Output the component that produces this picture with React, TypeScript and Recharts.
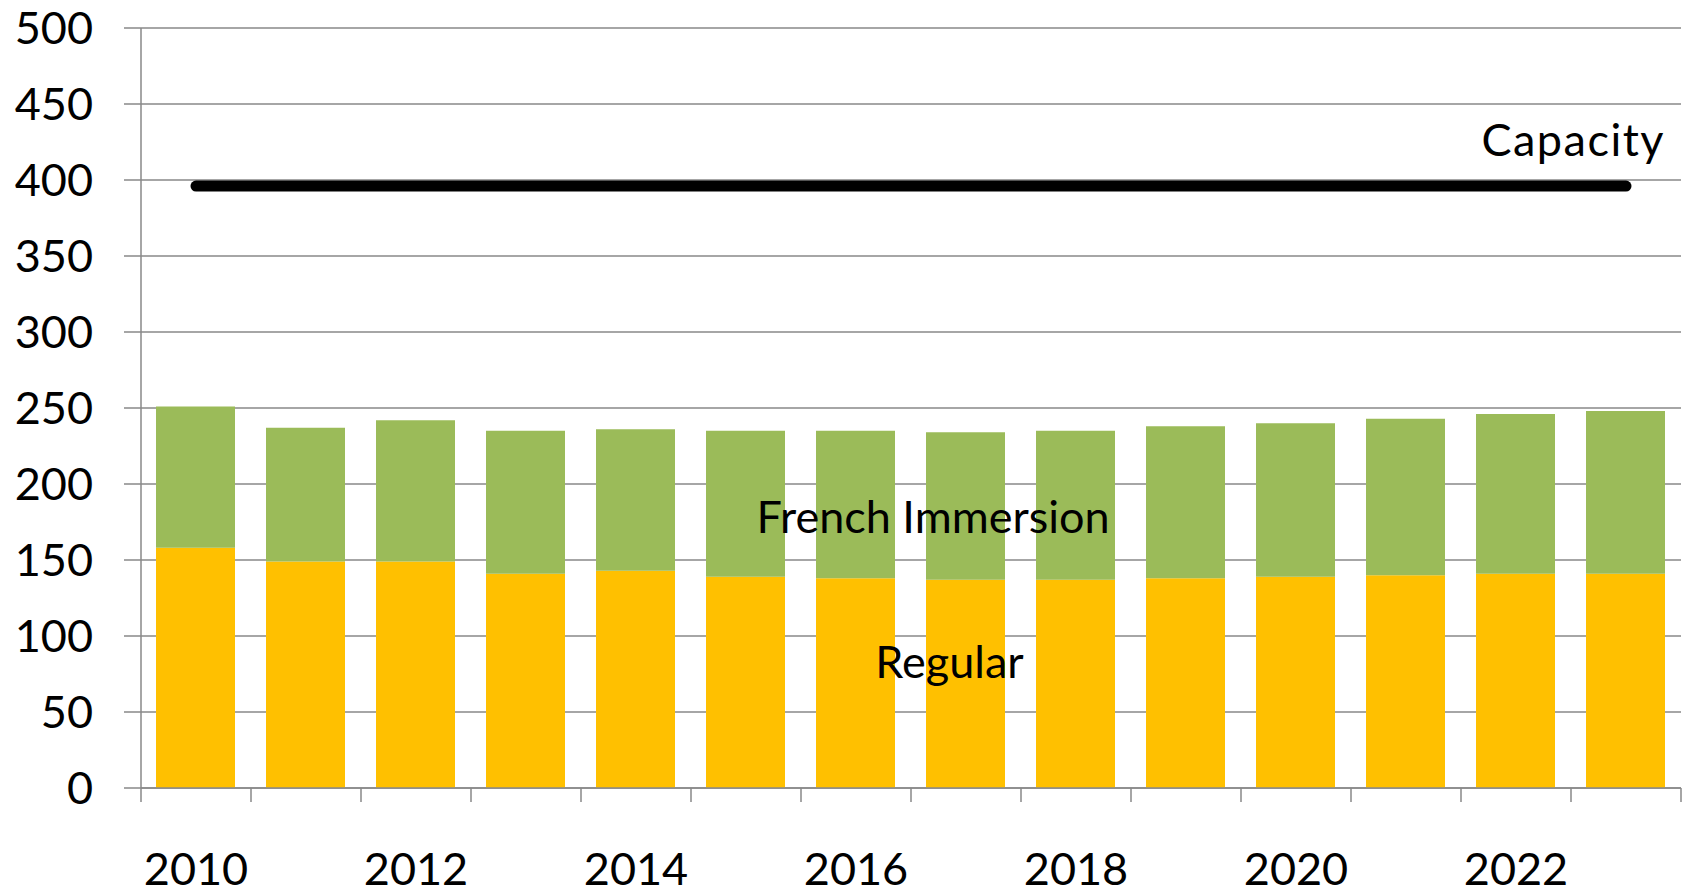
import React from 'react';
import {
  ComposedChart,
  Bar,
  Line,
  XAxis,
  YAxis,
  CartesianGrid,
  ReferenceDot,
} from 'recharts';

const YEARS = [2010, 2011, 2012, 2013, 2014, 2015, 2016, 2017, 2018, 2019, 2020, 2021, 2022, 2023];
const REGULAR = [158, 149, 149, 141, 143, 139, 138, 137, 137, 138, 139, 140, 141, 141];
const FRENCH = [93, 88, 93, 94, 93, 96, 97, 97, 98, 100, 101, 103, 105, 107];
const CAPACITY = [396, 396, 396, 396, 396, 396, 396, 396, 396, 396, 396, 396, 396, 396];
const Y_TICKS = [0, 50, 100, 150, 200, 250, 300, 350, 400, 450, 500];

const FONT = 'Lato, "Open Sans", sans-serif';
const AXIS_GREY = '#898989';

// bars sit at the middle of each year slot on a 0..14 number axis
const data = YEARS.map((year, i) => ({
  pos: i + 0.5,
  year,
  regular: REGULAR[i],
  french: FRENCH[i],
  capacity: CAPACITY[i],
}));

// integer ticks = slot boundaries (tick marks), half ticks = year labels
const X_TICKS = Array.from({ length: YEARS.length * 2 + 1 }, (_, i) => i / 2);

function XTick(props: any) {
  const { x, y, payload } = props;
  const v = payload.value as number;
  if (Number.isInteger(v)) {
    return <line x1={x} x2={x} y1={y} y2={y + 14} stroke={AXIS_GREY} strokeWidth={1.5} />;
  }
  const idx = Math.floor(v);
  if (idx % 2 !== 0) return <g />;
  return (
    <text x={x} y={y + 97} textAnchor="middle" fontSize={45} fill="#000" fontFamily={FONT}>
      {YEARS[idx]}
    </text>
  );
}

const labelStyle = { fontSize: 45, fill: '#000', fontFamily: FONT };

export default function App() {
  return (
    <div style={{ width: 1689, height: 895, background: '#fff' }}>
      <style>{'body{margin:0;overflow:hidden;}'}</style>
      <ComposedChart
        width={1689}
        height={895}
        data={data}
        margin={{ top: 28, right: 8, left: 0, bottom: 0 }}
      >
        <CartesianGrid vertical={false} stroke={AXIS_GREY} strokeWidth={1.5} />
        <XAxis
          dataKey="pos"
          type="number"
          domain={[0, YEARS.length]}
          ticks={X_TICKS}
          interval={0}
          height={107}
          tickLine={false}
          tickSize={0}
          tickMargin={0}
          axisLine={{ stroke: AXIS_GREY, strokeWidth: 1.5 }}
          tick={XTick}
        />
        <YAxis
          type="number"
          domain={[0, 500]}
          ticks={Y_TICKS}
          interval={0}
          width={141}
          tickSize={17}
          tickMargin={31}
          tickLine={{ stroke: AXIS_GREY, strokeWidth: 1.5 }}
          axisLine={{ stroke: AXIS_GREY, strokeWidth: 1.5 }}
          tick={{ fontSize: 45, fill: '#000', fontFamily: FONT }}
        />
        <Bar dataKey="regular" stackId="a" fill="#FFC000" barSize={79} isAnimationActive={false} />
        <Bar dataKey="french" stackId="a" fill="#9BBB59" barSize={79} isAnimationActive={false} />
        <Line
          dataKey="capacity"
          type="linear"
          stroke="#000"
          strokeWidth={11}
          strokeLinecap="round"
          dot={false}
          activeDot={false}
          isAnimationActive={false}
        />
        <ReferenceDot x={13.02} y={426} r={0} fill="none" stroke="none" label={{ value: 'Capacity', position: 'center', letterSpacing: 1.5, ...labelStyle }} />
        <ReferenceDot x={7.2} y={178} r={0} fill="none" stroke="none" label={{ value: 'French Immersion', position: 'center', ...labelStyle }} />
        <ReferenceDot x={7.35} y={83} r={0} fill="none" stroke="none" label={{ value: 'Regular', position: 'center', ...labelStyle }} />
      </ComposedChart>
    </div>
  );
}
